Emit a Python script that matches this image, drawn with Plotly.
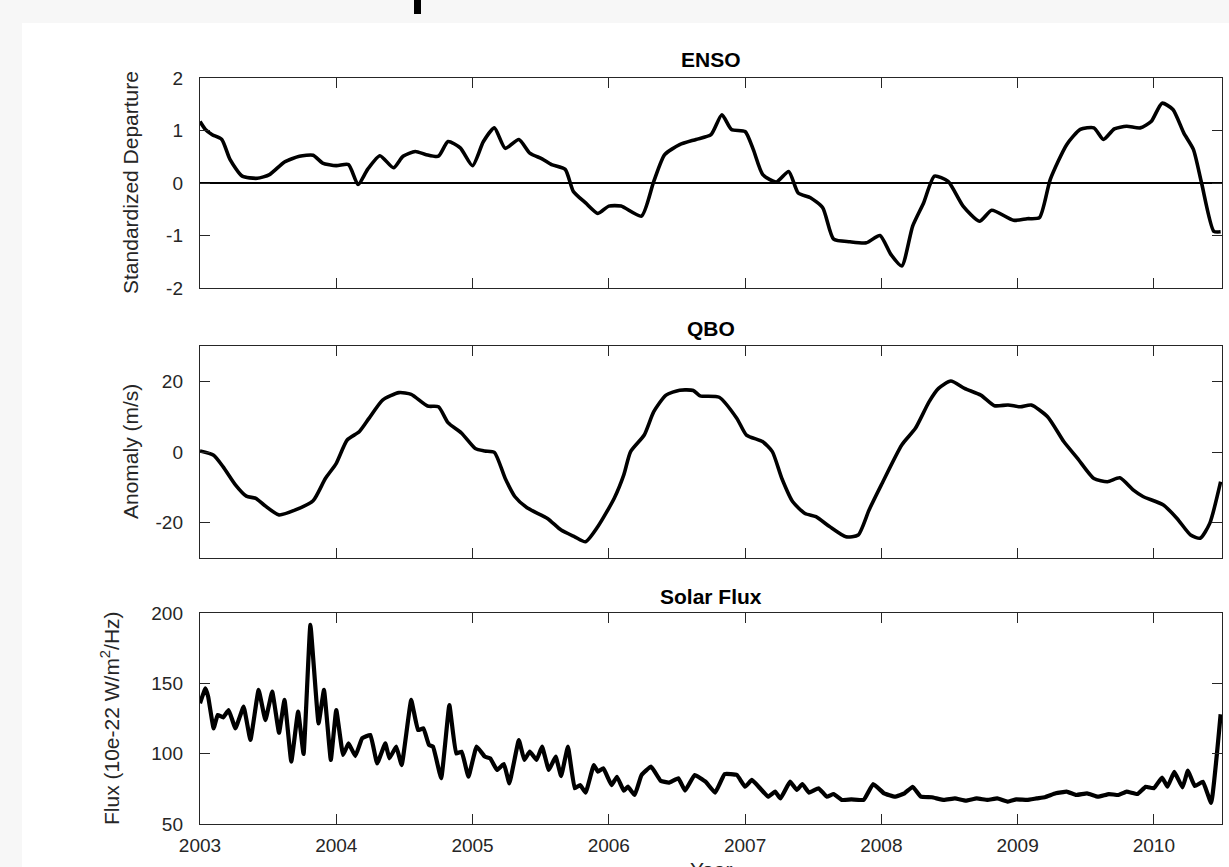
import plotly.graph_objects as go

# ---------------- data ----------------
enso_year = [2003.00, 2003.04, 2003.09, 2003.16, 2003.22, 2003.31, 2003.42, 2003.51, 2003.62, 2003.73,
             2003.83, 2003.90, 2004.00, 2004.09, 2004.16, 2004.23, 2004.32, 2004.42, 2004.49, 2004.58,
             2004.66, 2004.75, 2004.82, 2004.91, 2005.00, 2005.08, 2005.16, 2005.24, 2005.34, 2005.42,
             2005.51, 2005.58, 2005.68, 2005.74, 2005.83, 2005.92, 2006.00, 2006.09, 2006.24, 2006.33,
             2006.41, 2006.52, 2006.64, 2006.75, 2006.83, 2006.90, 2007.00, 2007.06, 2007.13, 2007.23,
             2007.32, 2007.39, 2007.48, 2007.57, 2007.65, 2007.77, 2007.89, 2007.99, 2008.07, 2008.15,
             2008.23, 2008.31, 2008.39, 2008.49, 2008.60, 2008.72, 2008.81, 2008.97, 2009.07, 2009.16,
             2009.24, 2009.36, 2009.46, 2009.56, 2009.63, 2009.71, 2009.80, 2009.90, 2009.98, 2010.06,
             2010.14, 2010.22, 2010.29, 2010.35, 2010.44, 2010.49]
enso_value = [1.17, 1.02, 0.92, 0.83, 0.45, 0.13, 0.09, 0.16, 0.40, 0.51,
              0.53, 0.38, 0.33, 0.35, -0.03, 0.26, 0.52, 0.29, 0.51, 0.60,
              0.54, 0.51, 0.79, 0.67, 0.33, 0.79, 1.05, 0.66, 0.83, 0.57,
              0.46, 0.35, 0.26, -0.16, -0.38, -0.58, -0.44, -0.44, -0.63, 0.03,
              0.54, 0.73, 0.83, 0.92, 1.30, 1.02, 0.98, 0.64, 0.16, 0.02,
              0.22, -0.19, -0.28, -0.47, -1.07, -1.12, -1.14, -1.00, -1.36, -1.58,
              -0.82, -0.38, 0.13, 0.03, -0.44, -0.73, -0.52, -0.71, -0.68, -0.66,
              0.07, 0.73, 1.02, 1.05, 0.83, 1.03, 1.08, 1.05, 1.17, 1.52,
              1.40, 0.95, 0.64, 0.00, -0.92, -0.93]

zero_year = [2003.0, 2010.5]
zero_value = [0.0, 0.0]

qbo_year = [2003.00, 2003.10, 2003.17, 2003.26, 2003.34, 2003.41, 2003.47, 2003.58, 2003.70, 2003.83,
            2003.92, 2004.00, 2004.08, 2004.17, 2004.24, 2004.34, 2004.46, 2004.55, 2004.67, 2004.75,
            2004.82, 2004.92, 2005.02, 2005.09, 2005.16, 2005.24, 2005.31, 2005.40, 2005.55, 2005.65,
            2005.75, 2005.83, 2005.92, 2006.04, 2006.11, 2006.16, 2006.26, 2006.33, 2006.42, 2006.52,
            2006.62, 2006.67, 2006.81, 2006.94, 2007.01, 2007.13, 2007.20, 2007.27, 2007.35, 2007.44,
            2007.52, 2007.62, 2007.74, 2007.83, 2007.91, 2008.00, 2008.15, 2008.25, 2008.35, 2008.42,
            2008.51, 2008.61, 2008.73, 2008.83, 2008.93, 2009.02, 2009.10, 2009.22, 2009.34, 2009.44,
            2009.56, 2009.66, 2009.75, 2009.85, 2009.92, 2010.07, 2010.17, 2010.27, 2010.34, 2010.41,
            2010.49]
qbo_value = [0.3, -0.9, -4.2, -9.3, -12.5, -13.1, -15.0, -17.8, -16.4, -13.8,
             -7.5, -3.2, 3.4, 5.8, 9.5, 14.7, 16.8, 16.3, 13.0, 12.8,
             8.3, 5.3, 1.0, 0.3, -0.1, -7.5, -12.6, -15.8, -18.8, -22.1,
             -24.0, -25.4, -21.1, -13.1, -6.5, 0.1, 4.8, 11.4, 16.1, 17.5,
             17.4, 15.9, 15.5, 9.5, 4.8, 2.9, 0.1, -7.5, -14.1, -17.4,
             -18.3, -21.1, -24.0, -23.5, -16.4, -9.3, 2.0, 6.7, 14.2, 18.0,
             20.1, 18.0, 16.1, 13.1, 13.3, 12.8, 13.3, 10.0, 2.9, -1.8,
             -7.5, -8.4, -7.3, -10.8, -12.6, -15.0, -18.8, -23.5, -24.4, -20.2,
             -8.4]

solar_year = [2003.00, 2003.04, 2003.06, 2003.10, 2003.13, 2003.17, 2003.21, 2003.26, 2003.32, 2003.37,
              2003.43, 2003.48, 2003.53, 2003.58, 2003.62, 2003.67, 2003.72, 2003.76, 2003.81, 2003.87,
              2003.91, 2003.96, 2004.00, 2004.05, 2004.09, 2004.14, 2004.19, 2004.25, 2004.30, 2004.36,
              2004.39, 2004.44, 2004.48, 2004.55, 2004.60, 2004.64, 2004.68, 2004.71, 2004.77, 2004.83,
              2004.88, 2004.92, 2004.97, 2005.03, 2005.09, 2005.13, 2005.18, 2005.23, 2005.27, 2005.34,
              2005.38, 2005.42, 2005.47, 2005.51, 2005.56, 2005.61, 2005.65, 2005.70, 2005.75, 2005.79,
              2005.83, 2005.89, 2005.92, 2005.96, 2006.02, 2006.06, 2006.11, 2006.14, 2006.19, 2006.24,
              2006.31, 2006.38, 2006.44, 2006.51, 2006.56, 2006.63, 2006.71, 2006.78, 2006.85, 2006.94,
              2007.00, 2007.05, 2007.11, 2007.17, 2007.22, 2007.26, 2007.33, 2007.38, 2007.42, 2007.47,
              2007.54, 2007.60, 2007.65, 2007.71, 2007.78, 2007.87, 2007.94, 2008.02, 2008.10, 2008.17,
              2008.23, 2008.29, 2008.37, 2008.46, 2008.54, 2008.62, 2008.70, 2008.78, 2008.85, 2008.93,
              2008.99, 2009.07, 2009.14, 2009.20, 2009.28, 2009.36, 2009.43, 2009.51, 2009.59, 2009.67,
              2009.74, 2009.80, 2009.88, 2009.94, 2010.00, 2010.06, 2010.10, 2010.15, 2010.21, 2010.25,
              2010.30, 2010.36, 2010.42, 2010.49]
solar_value = [135.8, 146.4, 140.5, 118.0, 127.5, 125.8, 131.0, 118.0, 133.4, 109.7,
               145.3, 123.9, 144.1, 114.9, 138.2, 94.3, 129.9, 99.8, 191.5, 121.6,
               145.3, 95.5, 131.0, 99.1, 107.3, 98.3, 110.9, 113.3, 93.1, 107.3,
               96.7, 105.0, 91.9, 138.2, 116.8, 118.0, 106.2, 105.0, 82.5, 134.6,
               100.2, 101.4, 83.6, 105.0, 97.9, 96.7, 88.4, 92.7, 78.9, 109.7,
               95.5, 101.4, 95.5, 105.0, 88.4, 97.9, 84.1, 105.0, 75.4, 77.7,
               72.3, 91.9, 87.2, 89.6, 77.7, 83.6, 73.7, 76.5, 70.6, 84.8,
               90.8, 80.8, 79.4, 82.5, 73.7, 84.8, 80.1, 72.3, 85.5, 84.8,
               76.5, 81.3, 75.4, 69.4, 73.0, 68.2, 80.1, 74.2, 78.4, 72.3,
               75.4, 69.4, 71.3, 67.1, 67.5, 67.1, 78.4, 71.8, 69.4, 71.8,
               76.5, 69.4, 69.0, 67.1, 68.2, 66.6, 68.2, 67.1, 68.2, 65.9,
               67.5, 67.1, 68.2, 69.0, 71.8, 73.0, 70.6, 71.8, 69.4, 71.3,
               70.6, 73.0, 71.3, 76.5, 75.4, 83.0, 76.5, 87.0, 76.0, 88.0,
               77.0, 80.0, 65.0, 128.0]

year_ticks = [2003, 2004, 2005, 2006, 2007, 2008, 2009, 2010]
year_labels = ["2003", "2004", "2005", "2006", "2007", "2008", "2009", "2010"]
enso_ticks = [-2, -1, 0, 1, 2]
enso_labels = ["-2", "-1", "0", "1", "2"]
qbo_ticks = [-20, 0, 20]
qbo_labels = ["-20", "0", "20"]
solar_ticks = [50, 100, 150, 200]
solar_labels = ["50", "100", "150", "200"]

panel_titles = ["ENSO", "QBO", "Solar Flux"]
y_titles = ["Standardized Departure", "Anomaly (m/s)", "Flux (10e-22 W/m<sup>2</sup>/Hz)"]

# ---------------- figure ----------------
W, H = 1229, 867
ML, MR, MT, MB = 200, 7, 78, 43
PW, PH = W - ML - MR, H - MT - MB


def px_x(x):
    return (x - ML) / PW


def px_y(y):
    return (H - MB - y) / PH


AX = "#262626"
FONT = "Liberation Sans, Arial, Helvetica, sans-serif"

fig = go.Figure()
fig.add_trace(go.Scatter(x=zero_year, y=zero_value, mode="lines",
                         line=dict(color="black", width=2.2), xaxis="x", yaxis="y"))
fig.add_trace(go.Scatter(x=enso_year, y=enso_value, mode="lines",
                         line=dict(color="black", width=3.6, shape="spline", smoothing=0.6),
                         xaxis="x", yaxis="y"))
fig.add_trace(go.Scatter(x=qbo_year, y=qbo_value, mode="lines",
                         line=dict(color="black", width=3.6, shape="spline", smoothing=0.6),
                         xaxis="x2", yaxis="y2"))
fig.add_trace(go.Scatter(x=solar_year, y=solar_value, mode="lines",
                         line=dict(color="black", width=4.2, shape="spline", smoothing=0.3),
                         xaxis="x3", yaxis="y3"))

domains = [[px_y(288), px_y(78)], [px_y(558), px_y(346)], [px_y(824), px_y(613)]]

common_axis = dict(showline=True, linecolor=AX, linewidth=1.4, mirror="ticks",
                   ticks="inside", ticklen=10, tickwidth=1.3, tickcolor=AX,
                   showgrid=False, zeroline=False,
                   tickfont=dict(family=FONT, size=19, color=AX))

layout = dict(width=W, height=H, margin=dict(l=ML, r=MR, t=MT, b=MB),
              paper_bgcolor="#f7f7f7", plot_bgcolor="white", showlegend=False,
              font=dict(family=FONT, color=AX))

for i, (ticks, labels, rng) in enumerate([(enso_ticks, enso_labels, [-2, 2]),
                                          (qbo_ticks, qbo_labels, [-30, 30]),
                                          (solar_ticks, solar_labels, [50, 200])]):
    sfx = "" if i == 0 else str(i + 1)
    layout["xaxis" + sfx] = dict(common_axis, domain=[0, 1], range=[2003, 2010.5],
                                 anchor="y" + sfx, tickvals=year_ticks, ticktext=year_labels,
                                 showticklabels=(i == 2), ticklabelstandoff=4)
    layout["yaxis" + sfx] = dict(common_axis, domain=domains[i], range=rng,
                                 anchor="x" + sfx, tickvals=ticks, ticktext=labels,
                                 ticklabelstandoff=12)
fig.update_layout(**layout)

# white figure area
fig.add_shape(type="rect", xref="paper", yref="paper", layer="below",
              x0=px_x(22), x1=px_x(1240), y0=px_y(880), y1=px_y(23),
              line=dict(width=0), fillcolor="white")
# fragment of cut-off heading at the top edge
fig.add_shape(type="rect", xref="paper", yref="paper",
              x0=px_x(414), x1=px_x(421), y0=px_y(14), y1=px_y(-2),
              line=dict(width=0), fillcolor="black")

title_y = [59, 328, 596]
for t, yy in zip(panel_titles, title_y):
    fig.add_annotation(text="<b>" + t + "</b>", xref="paper", yref="paper",
                       x=0.5, y=px_y(yy), xanchor="center", yanchor="middle",
                       showarrow=False, font=dict(family=FONT, size=21, color="black"))

ytitle_x = [130, 130, 110]
ytitle_y = [183, 452, 718]
for t, xx, yy in zip(y_titles, ytitle_x, ytitle_y):
    fig.add_annotation(text=t, xref="paper", yref="paper", x=px_x(xx), y=px_y(yy),
                       xanchor="center", yanchor="middle", textangle=-90, showarrow=False,
                       font=dict(family=FONT, size=21, color=AX))

fig.add_annotation(text="Year", xref="paper", yref="paper", x=0.5, y=px_y(856),
                   xanchor="center", yanchor="top", showarrow=False,
                   font=dict(family=FONT, size=21, color=AX))

fig.write_html("out.html")
